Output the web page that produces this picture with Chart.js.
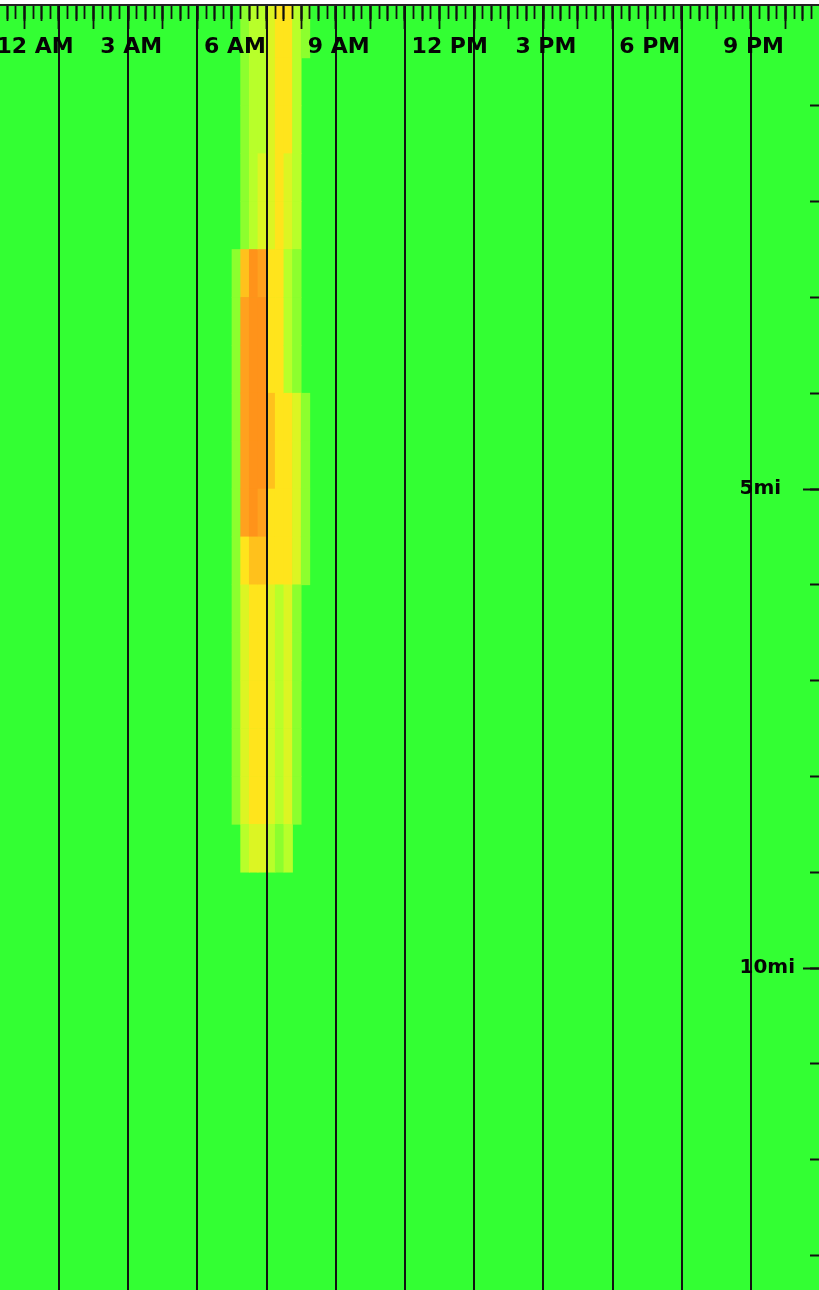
<!DOCTYPE html>
<html>
<head>
<meta charset="utf-8">
<script src="https://cdn.jsdelivr.net/npm/chart.js@4/dist/chart.umd.min.js"></script>
<style>
html,body{margin:0;padding:0;background:#fff;overflow:hidden}
canvas{display:block}
</style>
</head>
<body>
<canvas id="c" width="819" height="1290"></canvas>
<script>
// ---------- data ----------
// time bins (start hour of each 15-minute column)
const timeBins = [6.0, 6.25, 6.5, 6.75, 7.0, 7.25, 7.5, 7.75, 8.0];
const binHours = 0.25;
// distance rows (start mile of each half-mile row)
const mileRows = [-0.5, 0, 0.5, 1, 1.5, 2, 2.5, 3, 3.5, 4, 4.5, 5, 5.5, 6, 6.5, 7, 7.5, 8, 8.5];
const rowMiles = 0.5;
// congestion level per row (0 = free flow) for each time column
const lvl0600 = [0,0,0,0,0,0, 1,1,1,1,1,1,1, 1,1,1,1,1, 0];
const lvl0615 = [1,1,1,1,1,1, 5,6,6,6,6,6,4, 3,3,3,3,3, 2];
const lvl0630 = [2,2,2,2,2,2, 7,7,7,7,7,7,5, 4,4,4,4,4, 3];
const lvl0645 = [2,2,2,2,3,3, 6,7,7,7,7,6,5, 4,4,4,4,4, 3];
const lvl0700 = [3,3,3,3,3,3, 4,4,4,5,5,4,4, 3,3,3,3,3, 2];
const lvl0715 = [4,4,4,4,4,4, 4,4,4,4,4,4,4, 2,2,2,2,2, 1];
const lvl0730 = [4,4,4,4,3,3, 2,2,2,4,4,4,4, 3,3,3,3,3, 2];
const lvl0745 = [2,2,2,2,2,2, 1,1,1,3,3,3,3, 1,1,1,1,1, 0];
const lvl0800 = [1,1,0,0,0,0, 0,0,0,1,1,1,1, 0,0,0,0,0, 0];
const levelColumns = [lvl0600, lvl0615, lvl0630, lvl0645, lvl0700, lvl0715, lvl0730, lvl0745, lvl0800];

// axis ticks
const hourTickValues = [0, 3, 6, 9, 12, 15, 18, 21];
const hourTickLabels = ['12 AM', '3 AM', '6 AM', '9 AM', '12 PM', '3 PM', '6 PM', '9 PM'];
const gridHours = [1, 3, 5, 7, 9, 11, 13, 15, 17, 19, 21];
const mileTickValues = [5, 10];
const mileTickLabels = ['5mi', '10mi'];
const minorMiles = [1, 2, 3, 4, 5, 6, 7, 8, 9, 10, 11, 12, 13];

// ---------- styles ----------
const palette = [null, '#8cff2e', '#b8ff2a', '#dcf523', '#ffe41c', '#ffc11c', '#ffa11e', '#ff931a'];
const GREEN = '#33ff33';
const INK = '#111111';
const X_MIN = -0.7052, X_MAX = 22.966;
const Y_MIN = -0.0522, Y_MAX = 13.361;

// ---------- build bar cells ----------
const cells = [], cellColors = [];
timeBins.forEach((t, ci) => {
  levelColumns[ci].forEach((lv, ri) => {
    if (lv > 0) {
      cells.push({ x: t + binHours / 2, y: [mileRows[ri], mileRows[ri] + rowMiles] });
      cellColors.push(palette[lv]);
    }
  });
});

const zeroH = s => { s.height = 0; s.paddingLeft = 0; s.paddingRight = 0; s.paddingTop = 0; s.paddingBottom = 0; };
const zeroW = s => { s.width = 0; s.paddingLeft = 0; s.paddingRight = 0; s.paddingTop = 0; s.paddingBottom = 0; };
const setTicks = vals => s => { s.ticks = vals.map(v => ({ value: v })); };
const stepTicks = step => s => {
  const out = [];
  for (let v = Math.ceil(s.min / step) * step; v <= s.max + 1e-9; v += step) out.push({ value: v });
  s.ticks = out;
};

const rulerAxis = (step, len) => ({
  type: 'linear', position: 'top', min: X_MIN, max: X_MAX, offset: false,
  afterBuildTicks: stepTicks(step), afterFit: zeroH,
  ticks: { display: false },
  grid: { z: 2, offset: false, drawOnChartArea: false, drawTicks: true, tickLength: -len, tickColor: INK, tickWidth: 1.8 },
  border: { display: false }
});

const bgPlugin = {
  id: 'bg',
  beforeDraw(chart) {
    const { ctx, chartArea: a } = chart;
    ctx.save();
    ctx.fillStyle = '#ffffff';
    ctx.fillRect(0, 0, chart.width, chart.height);
    ctx.fillStyle = GREEN;
    ctx.fillRect(a.left, a.top, a.right - a.left, a.bottom - a.top);
    ctx.restore();
  }
};

new Chart(document.getElementById('c'), {
  type: 'bar',
  data: {
    datasets: [{
      data: cells,
      backgroundColor: cellColors,
      borderWidth: 0,
      barPercentage: 1,
      categoryPercentage: 1,
      xAxisID: 'x',
      yAxisID: 'y'
    }]
  },
  options: {
    responsive: false,
    animation: false,
    events: [],
    layout: { padding: { top: 5, left: 0, right: 0, bottom: 0 }, autoPadding: false },
    plugins: { legend: { display: false }, tooltip: { enabled: false }, title: { display: false } },
    scales: {
      x: {
        type: 'linear', position: 'top', min: X_MIN, max: X_MAX, offset: false,
        afterBuildTicks: setTicks(hourTickValues), afterFit: zeroH,
        ticks: {
          z: 3, autoSkip: false, maxRotation: 0, minRotation: 0, mirror: true,
          align: 'start', labelOffset: -28, padding: 29,
          color: '#050505', font: { family: 'DejaVu Sans', weight: 'bold', size: 22 },
          callback: (v, i) => hourTickLabels[i]
        },
        grid: { display: false, drawTicks: false, offset: false },
        border: { z: 3, display: true, color: '#222222', width: 2 }
      },
      xGrid: {
        type: 'linear', position: 'top', min: X_MIN, max: X_MAX, offset: false,
        afterBuildTicks: setTicks(gridHours), afterFit: zeroH,
        ticks: { display: false },
        grid: { z: 1, offset: false, drawOnChartArea: true, drawTicks: false, color: INK, lineWidth: 2 },
        border: { display: false }
      },
      xQuarter: rulerAxis(0.25, 14),
      xHalf: rulerAxis(0.5, 16),
      xHour: rulerAxis(1, 24),
      y: {
        type: 'linear', position: 'right', min: Y_MIN, max: Y_MAX, reverse: true,
        afterBuildTicks: setTicks(mileTickValues), afterFit: zeroW,
        ticks: {
          z: 3, mirror: true, crossAlign: 'far', padding: -24, color: '#050505',
          font: { family: 'DejaVu Sans', weight: 'bold', size: 20 },
          callback: (v, i) => mileTickLabels[i]
        },
        grid: { z: 2, drawOnChartArea: false, drawTicks: true, tickLength: -16, tickColor: INK, tickWidth: 2 },
        border: { display: false }
      },
      yMinor: {
        type: 'linear', position: 'right', min: Y_MIN, max: Y_MAX, reverse: true,
        afterBuildTicks: setTicks(minorMiles), afterFit: zeroW,
        ticks: { display: false },
        grid: { z: 2, drawOnChartArea: false, drawTicks: true, tickLength: -9, tickColor: INK, tickWidth: 2 },
        border: { display: false }
      }
    }
  },
  plugins: [bgPlugin]
});
</script>
</body>
</html>
